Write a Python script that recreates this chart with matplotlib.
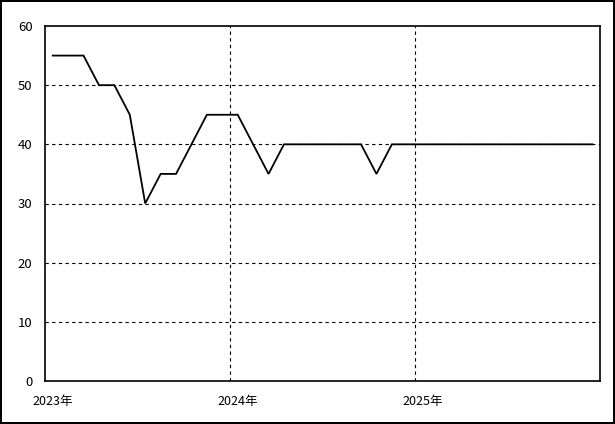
import matplotlib
matplotlib.use("Agg")
import matplotlib.pyplot as plt
import matplotlib.transforms as mtransforms
import numpy as np

plt.rcParams['font.family'] = ['Noto Sans CJK JP', 'DejaVu Sans']

# monthly values, Jan 2023 .. Dec 2025
values = [55, 55, 55, 50, 50, 45, 30, 35, 35, 40, 45, 45,
          45, 40, 35, 40, 40, 40, 40, 40, 40, 35, 40, 40,
          40, 40, 40, 40, 40, 40, 40, 40, 40, 40, 40, 40]
year_labels = ['2023年', '2024年', '2025年']
y_ticks = [0, 10, 20, 30, 40, 50, 60]

fig = plt.figure(figsize=(6.15, 4.24), dpi=100)
fig.patch.set_edgecolor('black')
fig.patch.set_linewidth(1.5)
ax = fig.add_axes([45 / 615, 43 / 424, 555 / 615, 355 / 424])

months = np.arange(len(values)) + 0.5
ax.plot(months, values, color='black', linewidth=1.3, solid_joinstyle='miter')

ax.set_xlim(0, 36)
ax.set_ylim(0, 60)
ax.set_xticks([0, 12, 24])
ax.set_xticklabels(year_labels, fontsize=9)
ax.set_yticks(y_ticks)
ax.set_yticklabels([str(v) for v in y_ticks], fontsize=9.5)

ax.tick_params(axis='both', length=0)
ax.tick_params(axis='y', pad=9)
ax.tick_params(axis='x', pad=10)

offset = mtransforms.ScaledTranslation(7.5 / 100, 0, fig.dpi_scale_trans)
for lab in ax.get_xticklabels():
    lab.set_transform(lab.get_transform() + offset)

for v in y_ticks[1:-1]:
    ax.axhline(v, color='black', linewidth=0.8, linestyle=(0, (3, 3)))
for m in [12, 24]:
    ax.axvline(m, color='black', linewidth=0.8, linestyle=(0, (3, 3)))

for s in ax.spines.values():
    s.set_color('black')
    s.set_linewidth(1.2)

fig.savefig('out.png', dpi=100, edgecolor=fig.get_edgecolor())
